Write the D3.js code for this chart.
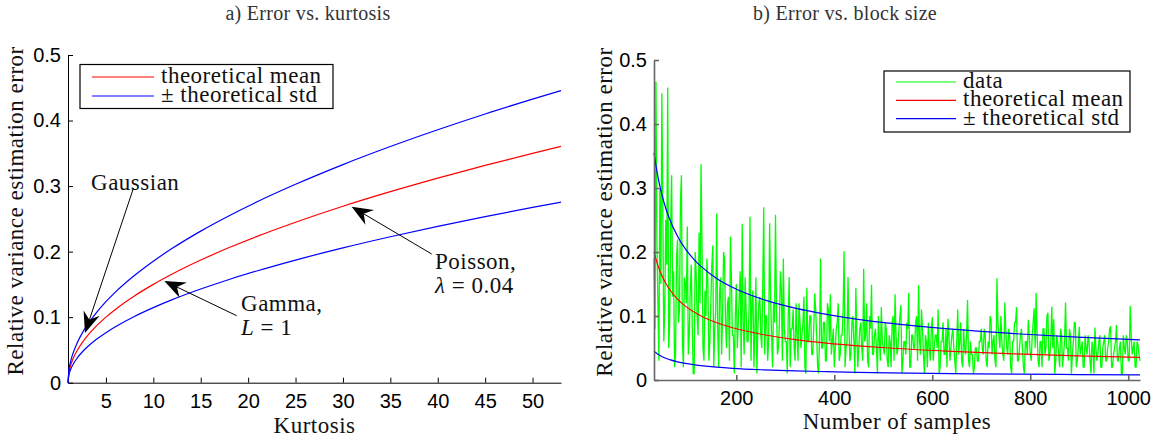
<!DOCTYPE html>
<html><head><meta charset="utf-8">
<script src="https://cdn.jsdelivr.net/npm/d3@7"></script>
<style>body{margin:0;background:#fff} svg{display:block}</style>
</head><body>
<svg id="chart" width="1163" height="441"></svg>
<script>
// ---------------- Panel a) Error vs. kurtosis ----------------
const kurtosis = [1, 1.1, 1.25, 1.5, 2, 2.5, 3, 4, 5, 6, 8, 10, 12, 15, 18, 21, 25, 30, 35, 40, 45, 50, 53];
const meanA  = [0, 0.0158, 0.025, 0.0354, 0.05, 0.0612, 0.0707, 0.0866, 0.1, 0.1118, 0.1323, 0.15, 0.1658, 0.1871, 0.2062, 0.2236, 0.2449, 0.2693, 0.2915, 0.3122, 0.3317, 0.35, 0.3606];
const upperA = [0, 0.0196, 0.0309, 0.0437, 0.0618, 0.0757, 0.0874, 0.107, 0.1236, 0.1382, 0.1635, 0.1854, 0.205, 0.2313, 0.2548, 0.2764, 0.3027, 0.3328, 0.3603, 0.3859, 0.41, 0.4326, 0.4457];
const lowerA = [0, 0.0121, 0.0191, 0.027, 0.0382, 0.0468, 0.054, 0.0662, 0.0764, 0.0854, 0.1011, 0.1146, 0.1267, 0.1429, 0.1575, 0.1708, 0.1871, 0.2057, 0.2227, 0.2385, 0.2534, 0.2674, 0.2755];
const kurtTicks = [5, 10, 15, 20, 25, 30, 35, 40, 45, 50];
const errTicks = [0, 0.1, 0.2, 0.3, 0.4, 0.5];
const errTickLabels = ["0", "0.1", "0.2", "0.3", "0.4", "0.5"];
const legendA = ["theoretical mean", "\u00B1 theoretical std"];
// annotations: tip / line start / text anchor in data units
const annoLabels = [
  [[{t: "Gaussian"}]],
  [[{t: "Gamma,"}], [{t: "L", i: true}, {t: " = 1"}]],
  [[{t: "Poisson,"}], [{t: "\u03BB", i: true}, {t: " = 0.04"}]]
];
const annoTip   = [[2.79, 0.0758], [11.16, 0.1552], [30.92, 0.2685]];
const annoStart = [[7.91, 0.2971], [18.79, 0.1022], [39.36, 0.1964]];
const annoText  = [[3.43, 0.294], [19.25, 0.1094], [39.71, 0.1732]];

// ---------------- Panel b) Error vs. block size ----------------
const blockSizes = [32, 40, 48, 56, 64, 80, 96, 112, 128, 160, 192, 256, 320, 384, 448, 512, 640, 768, 896, 1024];
const meanB  = [0.2, 0.1788, 0.1633, 0.1511, 0.1414, 0.1265, 0.1154, 0.1069, 0.1, 0.0894, 0.0816, 0.0707, 0.0632, 0.0577, 0.0534, 0.05, 0.0447, 0.0408, 0.0378, 0.0353];
const upperB = [0.355, 0.3174, 0.2899, 0.2683, 0.2511, 0.2245, 0.2049, 0.1898, 0.1775, 0.1587, 0.1449, 0.1255, 0.1122, 0.1025, 0.0948, 0.0888, 0.0794, 0.0724, 0.0671, 0.0627];
const lowerB = [0.0449, 0.0402, 0.0367, 0.0339, 0.0318, 0.0284, 0.0259, 0.024, 0.0225, 0.0201, 0.0183, 0.0159, 0.0142, 0.013, 0.012, 0.0112, 0.01, 0.0092, 0.0085, 0.0079];
// measured error; samples evenly spaced over block sizes 32..1024
// dataEven: n = 32, 36, 40, ... 1024 ; dataOdd: n = 34, 38, ... 1022
const dataRange = [32, 1024];
const dataEven = [
  0.19, 0.466, 0.12, 0.30, 0.448, 0.06, 0.25, 0.457, 0.09, 0.32,
  0.17, 0.04, 0.22, 0.11, 0.32, 0.02, 0.15, 0.24, 0.07, 0.18,
  0.01, 0.20, 0.10, 0.23, 0.337, 0.05, 0.14, 0.19, 0.03, 0.12,
  0.21, 0.08, 0.26, 0.02, 0.16, 0.10, 0.19, 0.05, 0.13, 0.224,
  0.07, 0.01, 0.15, 0.09, 0.17, 0.244, 0.04, 0.11, 0.06, 0.255,
  0.12, 0.02, 0.16, 0.08, 0.13, 0.05, 0.27, 0.10, 0.03, 0.245,
  0.07, 0.12, 0.258, 0.04, 0.09, 0.14, 0.19, 0.06, 0.01, 0.161,
  0.08, 0.11, 0.03, 0.07, 0.12, 0.05, 0.09, 0.02, 0.144, 0.06,
  0.10, 0.04, 0.135, 0.07, 0.01, 0.19, 0.05, 0.09, 0.03, 0.11,
  0.134, 0.06, 0.02, 0.08, 0.12, 0.04, 0.07, 0.201, 0.05, 0.161,
  0.03, 0.09, 0.06, 0.144, 0.02, 0.08, 0.05, 0.174, 0.07, 0.03,
  0.10, 0.149, 0.04, 0.08, 0.01, 0.06, 0.114, 0.05, 0.09, 0.03,
  0.07, 0.02, 0.10, 0.134, 0.04, 0.08, 0.117, 0.03, 0.06, 0.09,
  0.136, 0.02, 0.07, 0.05, 0.10, 0.148, 0.04, 0.08, 0.01, 0.06,
  0.09, 0.03, 0.098, 0.05, 0.07, 0.11, 0.02, 0.06, 0.04, 0.08,
  0.096, 0.03, 0.07, 0.05, 0.01, 0.11, 0.06, 0.03, 0.08, 0.04,
  0.125, 0.02, 0.04, 0.01, 0.05, 0.03, 0.06, 0.08, 0.04, 0.07,
  0.02, 0.05, 0.094, 0.06, 0.03, 0.159, 0.07, 0.10, 0.04, 0.121,
  0.05, 0.08, 0.02, 0.06, 0.09, 0.114, 0.03, 0.07, 0.05, 0.01,
  0.06, 0.094, 0.04, 0.07, 0.112, 0.136, 0.03, 0.06, 0.02, 0.08,
  0.05, 0.105, 0.04, 0.115, 0.095, 0.03, 0.06, 0.02, 0.07, 0.04,
  0.121, 0.05, 0.08, 0.01, 0.06, 0.089, 0.03, 0.083, 0.05, 0.02,
  0.07, 0.04, 0.06, 0.01, 0.05, 0.082, 0.03, 0.06, 0.02, 0.05,
  0.07, 0.03, 0.06, 0.084, 0.02, 0.05, 0.086, 0.03, 0.06, 0.01,
  0.05, 0.07, 0.03, 0.116, 0.04, 0.06, 0.02, 0.055, 0.03
];
const dataOdd = [
  0.08, 0.21, 0.03, 0.15, 0.27, 0.11, 0.18, 0.05, 0.24, 0.13, 0.02, 0.19, 0.09, 0.28, 0.06, 0.16, 0.12,
  0.04, 0.14, 0.09, 0.01, 0.17, 0.07, 0.12, 0.21, 0.03, 0.10, 0.15, 0.06, 0.18, 0.02, 0.11, 0.08, 0.14, 0.04, 0.20, 0.09, 0.12, 0.03, 0.16, 0.07, 0.10,
  0.05, 0.13, 0.02, 0.09, 0.16, 0.06, 0.11, 0.03, 0.14, 0.08, 0.01, 0.12, 0.07, 0.15, 0.04, 0.10, 0.06, 0.13, 0.02, 0.09, 0.11, 0.05, 0.17, 0.03, 0.08,
  0.06, 0.10, 0.02, 0.08, 0.05, 0.12, 0.03, 0.09, 0.07, 0.13, 0.01, 0.06, 0.10, 0.04, 0.08, 0.11, 0.02, 0.07, 0.05, 0.09, 0.03, 0.12, 0.06, 0.04, 0.08,
  0.05, 0.09, 0.03, 0.07, 0.11, 0.02, 0.06, 0.08, 0.04, 0.10, 0.01, 0.07, 0.05, 0.09, 0.03, 0.06, 0.12, 0.02, 0.08, 0.04, 0.07, 0.05, 0.10, 0.03, 0.06,
  0.04, 0.08, 0.02, 0.06, 0.09, 0.03, 0.07, 0.05, 0.10, 0.01, 0.06, 0.04, 0.08, 0.02, 0.07, 0.05, 0.09, 0.03, 0.06, 0.11, 0.04, 0.07, 0.02, 0.05, 0.08,
  0.03, 0.07, 0.05, 0.01, 0.06, 0.09, 0.04, 0.02, 0.07, 0.05, 0.08, 0.03, 0.06, 0.04, 0.09, 0.02, 0.05, 0.07, 0.03, 0.06, 0.04, 0.02, 0.05, 0.03, 0.06,
  0.05, 0.08, 0.03, 0.06, 0.10, 0.04, 0.07, 0.02, 0.09, 0.05, 0.06, 0.03, 0.08, 0.04, 0.07, 0.01, 0.06, 0.09, 0.03, 0.05, 0.08, 0.02, 0.06, 0.04, 0.07,
  0.03, 0.09, 0.05, 0.07, 0.02, 0.06, 0.08, 0.04, 0.10, 0.03, 0.06, 0.05, 0.01, 0.07, 0.04, 0.08, 0.02, 0.06, 0.05, 0.03, 0.07, 0.04, 0.09, 0.02, 0.05,
  0.04, 0.06, 0.02, 0.05, 0.07, 0.03, 0.06, 0.01, 0.05, 0.04, 0.07, 0.02, 0.06, 0.03, 0.05, 0.08, 0.02, 0.04, 0.06, 0.03, 0.05, 0.01, 0.07, 0.04, 0.06,
  0.03, 0.07, 0.05, 0.02, 0.06, 0.04
];
const blockTicks = [200, 400, 600, 800, 1000];
const legendB = ["data", "theoretical mean", "\u00B1 theoretical std"];

// ---------------- styles ----------------
const SERIF = "'Liberation Serif', 'Times New Roman', serif";
const SANS = "'Liberation Sans', Arial, Helvetica, sans-serif";
const C = {red: "#ff0000", blue: "#0000ff", green: "#00ff00"};

const svg = d3.select("#chart");
svg.append("rect").attr("width", 1163).attr("height", 441).attr("fill", "#fff");

function serifText(g, x, y, str, opts = {}) {
  return g.append("text").attr("x", x).attr("y", y)
    .attr("font-family", SERIF).attr("font-size", opts.size || 23)
    .attr("letter-spacing", opts.ls != null ? opts.ls : 0.5)
    .attr("fill", opts.fill || "#111")
    .attr("text-anchor", opts.anchor || "start")
    .text(str);
}

function styleAxis(g, color, width) {
  g.attr("font-family", SANS).attr("font-size", 20);
  g.select(".domain").attr("stroke", color).attr("stroke-width", width);
  g.selectAll(".tick line").attr("stroke", color).attr("stroke-width", width);
  g.selectAll(".tick text").attr("fill", "#000");
}

function drawArrow(g, sx, sy, tx, ty) {
  const dx = sx - tx, dy = sy - ty, len = Math.hypot(dx, dy);
  const ux = dx / len, uy = dy / len, px = -uy, py = ux;
  const L = 21, W = 8.5, N = 14;
  g.append("line").attr("x1", sx).attr("y1", sy)
    .attr("x2", tx + ux * N).attr("y2", ty + uy * N)
    .attr("stroke", "#000").attr("stroke-width", 1);
  const pts = [
    [tx, ty],
    [tx + ux * L + px * W, ty + uy * L + py * W],
    [tx + ux * N, ty + uy * N],
    [tx + ux * L - px * W, ty + uy * L - py * W]
  ];
  g.append("path").attr("d", "M" + pts.map(p => p.join(",")).join("L") + "Z").attr("fill", "#000");
}

// ================= Panel a =================
const xA = d3.scaleLinear().domain([1, 53]).range([68, 561]);
const yA = d3.scaleLinear().domain([0, 0.5]).range([382.7, 55]);
const gA = svg.append("g");

serifText(gA, 308, 20, "a) Error vs. kurtosis", {anchor: "middle", size: 20, ls: 0.3, fill: "#333"});

const axA_x = gA.append("g").attr("transform", `translate(0,${yA(0)})`)
  .call(d3.axisBottom(xA).tickValues(kurtTicks).tickFormat(d3.format("d")).tickSizeInner(-5).tickSizeOuter(0).tickPadding(11));
styleAxis(axA_x, "#000", 1);
const axA_y = gA.append("g").attr("transform", `translate(${xA(1)},0)`)
  .call(d3.axisLeft(yA).tickValues(errTicks).tickFormat((d, i) => errTickLabels[i]).tickSizeInner(-5).tickSizeOuter(0).tickPadding(7));
styleAxis(axA_y, "#000", 1);

serifText(gA, (xA.range()[0] + xA.range()[1]) / 2, 433, "Kurtosis", {anchor: "middle"});
serifText(gA, 0, 0, "Relative variance estimation error", {anchor: "middle"})
  .attr("transform", `translate(23,${(yA.range()[0] + yA.range()[1]) / 2 - 8}) rotate(-90)`);

const lineA = d3.line().x((d, i) => xA(kurtosis[i])).y(d => yA(d)).curve(d3.curveMonotoneX);
[[meanA, C.red], [upperA, C.blue], [lowerA, C.blue]].forEach(([arr, col]) => {
  gA.append("path").attr("d", lineA(arr)).attr("fill", "none").attr("stroke", col).attr("stroke-width", 1.2);
});

// legend a
const legA = gA.append("g");
legA.append("rect").attr("x", 80).attr("y", 64.5).attr("width", 253).attr("height", 44)
  .attr("fill", "#fff").attr("stroke", "#000").attr("stroke-width", 1.2);
legendA.forEach((lab, i) => {
  const y = 77 + i * 19;
  legA.append("line").attr("x1", 92).attr("x2", 154).attr("y1", y).attr("y2", y)
    .attr("stroke", [C.red, C.blue][i]).attr("stroke-width", 1.2);
  serifText(legA, 161, y + 6, lab);
});

// annotations
annoLabels.forEach((lines, k) => {
  drawArrow(gA, xA(annoStart[k][0]), yA(annoStart[k][1]), xA(annoTip[k][0]), yA(annoTip[k][1]));
  lines.forEach((segs, j) => {
    const t = serifText(gA, xA(annoText[k][0]), yA(annoText[k][1]) + j * 24, "");
    segs.forEach(s => t.append("tspan").attr("font-style", s.i ? "italic" : "normal").text(s.t));
  });
});

// ================= Panel b =================
const xB = d3.scaleLinear().domain([32, 1024]).range([654, 1140]);
const yB = d3.scaleLinear().domain([0, 0.5]).range([380, 60]);
const gB = svg.append("g");

serifText(gB, 845, 20, "b) Error vs. block size", {anchor: "middle", size: 20, ls: 0.3, fill: "#333"});

const dataB = d3.merge(dataEven.map((v, i) => i < dataOdd.length ? [v, dataOdd[i]] : [v]));
const idx = d3.scaleLinear().domain([0, dataB.length - 1]).range(dataRange);
gB.append("path")
  .attr("d", d3.line().x((d, i) => xB(idx(i))).y(d => yB(d))(dataB))
  .attr("fill", "none").attr("stroke", C.green).attr("stroke-width", 1.3);

const lineB = d3.line().x((d, i) => xB(blockSizes[i])).y(d => yB(d)).curve(d3.curveMonotoneX);
[[meanB, C.red], [upperB, C.blue], [lowerB, C.blue]].forEach(([arr, col]) => {
  gB.append("path").attr("d", lineB(arr)).attr("fill", "none").attr("stroke", col).attr("stroke-width", 1.2);
});

const axB_x = gB.append("g").attr("transform", `translate(0,${yB(0)})`)
  .call(d3.axisBottom(xB).tickValues(blockTicks).tickFormat(d3.format("d")).tickSizeInner(-5).tickSizeOuter(0).tickPadding(11));
styleAxis(axB_x, "#666", 1.6);
const axB_y = gB.append("g").attr("transform", `translate(${xB(32)},0)`)
  .call(d3.axisLeft(yB).tickValues(errTicks).tickFormat((d, i) => errTickLabels[i]).tickSizeInner(-5).tickSizeOuter(0).tickPadding(7));
styleAxis(axB_y, "#666", 1.6);

serifText(gB, (xB.range()[0] + xB.range()[1]) / 2, 429, "Number of samples", {anchor: "middle"});
serifText(gB, 0, 0, "Relative variance estimation error", {anchor: "middle"})
  .attr("transform", `translate(612,${(yB.range()[0] + yB.range()[1]) / 2 - 8}) rotate(-90)`);

// legend b
const legB = gB.append("g");
legB.append("rect").attr("x", 884).attr("y", 71).attr("width", 246).attr("height", 61)
  .attr("fill", "#fff").attr("stroke", "#000").attr("stroke-width", 1.2);
legendB.forEach((lab, i) => {
  const y = 82 + i * 18.3;
  legB.append("line").attr("x1", 896).attr("x2", 956).attr("y1", y).attr("y2", y)
    .attr("stroke", [C.green, C.red, C.blue][i]).attr("stroke-width", 1.2);
  serifText(legB, 963, y + 6, lab);
});
</script>
</body></html>
